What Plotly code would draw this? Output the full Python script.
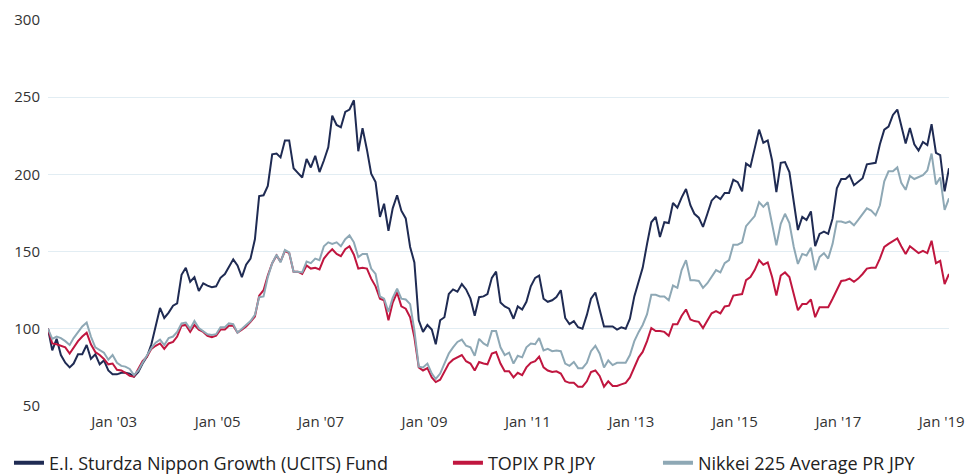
import pandas as pd
import plotly.graph_objects as go

# Monthly month-end observations, Aug 2001 .. Jan 2019 (rebased to 100)
dates = pd.date_range("2001-08-31", periods=210, freq="ME")

fund = [
    100, 86, 93.5, 83, 78, 75, 77.5, 83.5, 83.5, 89.5,
    80.5, 83.5, 77, 79.5, 73, 70.5, 70.5, 71.5, 71.5, 71,
    69, 72, 77.5, 82, 90, 101, 113.5, 107, 110.5, 115,
    116.5, 135, 139.5, 130.5, 133.5, 124.5, 129.5, 128, 127, 127.5,
    133, 135.5, 140, 145, 141, 133.5, 141.5, 145.5, 158, 186,
    186.5, 192.5, 213, 213.5, 211, 222, 222, 204, 201, 198,
    210, 204.5, 212, 201.5, 209, 217.5, 238, 232, 230.5, 240.5,
    242, 248, 215, 230, 216, 200.5, 195, 172.5, 181, 163.5,
    178, 186.5, 176.5, 171.5, 153, 143, 105.5, 98, 102.5, 99.5,
    90, 105.5, 107.5, 122.5, 125.5, 124, 129, 125.5, 119.5, 108.5,
    120.5, 121, 122.5, 133, 137, 117, 114.5, 113, 106.5, 114.5,
    112.5, 117.5, 127.5, 133, 134.5, 119.5, 117.5, 118.5, 120.5, 125,
    107, 103, 105, 101, 100, 109, 119.5, 123.5, 112.5, 101.5,
    101.5, 101.5, 99.5, 101, 100, 106.5, 121, 130.5, 139.5, 155,
    169, 172.5, 159.5, 169, 168.5, 181.5, 178.5, 185, 190.5, 180,
    174.5, 172, 166, 174.5, 183, 186, 184, 188, 188, 196.5,
    195, 189, 207, 205, 217.5, 229, 220.5, 222, 209, 188.5,
    207.5, 208, 201.5, 181, 164, 172.5, 170.5, 176, 153.5, 161.5,
    163, 161.5, 171.5, 191, 197, 197, 199.5, 193, 195.5, 197.5,
    206.5, 207, 207.5, 219.5, 229, 231, 238.5, 242, 231, 220,
    230, 219.5, 215.5, 221, 219, 232.5, 214, 212.5, 189, 204,
]

topix = [
    100, 90.5, 90, 89, 88, 84, 88, 92, 95, 97.5,
    90, 85, 83, 80.5, 77, 77.5, 73.5, 73, 71.5, 69.5,
    69, 74, 79, 82, 87, 89, 90.5, 87, 90.5, 91.5,
    95, 102, 102.5, 98, 102.5, 99.5, 98, 95.5, 94.5, 95.5,
    99.5, 99.5, 102, 102, 97.5, 99.5, 101.5, 104.5, 108, 121.5,
    125, 134.5, 142.5, 147.5, 143.5, 150.5, 149, 137, 137, 135.5,
    141, 139, 139.5, 138.5, 145.5, 149, 151.5, 148.5, 147, 151.5,
    153.5, 148, 139, 139.5, 139, 132.5, 127.5, 119.5, 118.5, 105.5,
    117, 123.5, 114.5, 113, 107.5, 94.5, 75, 73, 74.5, 68.5,
    65.5, 67, 72, 77.5, 80, 81.5, 83, 79, 77.5, 73,
    78.5, 77.5, 77, 84, 85, 77.5, 72.5, 72.5, 68.5, 71.5,
    70, 75, 78, 79, 82, 75, 73, 72, 72.5, 71,
    66, 65, 65, 62.5, 62.5, 66, 72, 73, 69.5, 62.5,
    66, 63, 63, 64, 65, 68.5, 75, 81.5, 85, 92,
    100.5, 98.5, 98.5, 98, 95.5, 103, 103, 108.5, 112.5, 106,
    105, 104.5, 100.5, 105.5, 110, 111.5, 110, 114.5, 115, 121.5,
    122, 122.5, 131.5, 133.5, 138, 144.5, 141.5, 143, 133.5, 121.5,
    134.5, 136.5, 133.5, 122.5, 112, 116, 116, 119, 107.5, 114,
    114, 114, 119.5, 125.5, 131, 131.5, 132.5, 130.5, 132.5, 135.5,
    139, 139.5, 139.5, 145.5, 153, 155, 157, 158.5, 153.5, 148.5,
    153.5, 151, 149, 150.5, 149, 157, 142.5, 144, 129, 135.5,
]

nikkei = [
    100, 93.5, 95, 94, 92, 89.5, 94, 98, 101.5, 104,
    95, 88, 86, 84.5, 80, 83, 78, 76, 75.5, 74,
    70, 73, 78, 83, 87.5, 91, 93, 89.5, 94, 95,
    98, 103.5, 104, 100, 105, 100.5, 98.5, 96.5, 96, 96.5,
    101, 101, 103.5, 103, 97.5, 100, 102, 105, 109, 120.5,
    121, 133.5, 142.5, 148, 143, 151, 149.5, 137, 137, 136.5,
    143.5, 142.5, 145.5, 144.5, 153.5, 156, 155, 156, 153.5, 158,
    160.5, 156, 146.5, 148.5, 148.5, 139, 135.5, 121, 119.5, 111,
    120, 126, 119.5, 119, 116, 99, 75.5, 75, 77.5, 71,
    67.5, 71, 77.5, 84, 88, 91.5, 93, 89, 88, 82.5,
    93.5, 90.5, 89, 98.5, 98.5, 88, 83, 84.5, 77.5, 82.5,
    81.5, 88, 90.5, 90, 94, 86, 87, 85.5, 86, 85.5,
    77.5, 76, 78.5, 74.5, 74.5, 78, 85.5, 89, 84, 75,
    79.5, 76.5, 78, 78, 78, 83, 92, 98, 102.5, 109.5,
    122, 122, 121, 121, 118.5, 128, 126.5, 138, 144.5, 131.5,
    131.5, 131, 126.5, 129.5, 133.5, 138, 136.5, 142.5, 144.5, 154.5,
    154.5, 156, 166.5, 170, 173, 182, 179, 182, 168, 154,
    168, 174.5, 168.5, 153, 142, 148.5, 147.5, 152.5, 138, 146.5,
    149, 145.5, 155, 169.5, 169.5, 168.5, 169.5, 167, 170.5, 174.5,
    178, 176.5, 173.5, 180, 195.5, 202, 202, 204.5, 194.5, 190,
    199, 197, 198, 199.5, 202.5, 213.5, 193.5, 198, 177, 184.5,
]

names = [
    "E.I. Sturdza Nippon Growth (UCITS) Fund",
    "TOPIX PR JPY",
    "Nikkei 225 Average PR JPY",
]
series = [fund, topix, nikkei]
colors = ["#1f2b53", "#c0163f", "#8ea8b5"]
legends = ["legend", "legend2", "legend3"]

y_ticks = [50, 100, 150, 200, 250, 300]

FONT = "Open Sans"

fig = go.Figure()
for name, vals, col in zip(names, series, colors):
    fig.add_trace(go.Scatter(
        x=dates, y=vals, mode="lines", name=name,
        line=dict(color=col, width=2), showlegend=False,
        hoverinfo="x+y",
    ))
# legend entries (thicker key lines, as in the original)
for name, col, lg in zip(names, colors, legends):
    fig.add_trace(go.Scatter(
        x=[None], y=[None], mode="lines", name=name,
        line=dict(color=col, width=4), showlegend=True, legend=lg,
    ))

leg_common = dict(orientation="h", yanchor="middle", y=-0.148, xanchor="left",
                  font=dict(family=FONT, size=18, color="#222222"),
                  bgcolor="rgba(0,0,0,0)", borderwidth=0)

fig.update_layout(
    width=967, height=476,
    margin=dict(l=48, r=18, t=20, b=70, autoexpand=False),
    paper_bgcolor="white", plot_bgcolor="white",
    font=dict(family=FONT, size=15, color="#333333"),
    xaxis=dict(
        type="date",
        range=[dates[0], dates[-1]],
        tick0="2003-01-01", dtick="M24", tickformat="%b '%y",
        showgrid=False, zeroline=False, showline=False,
        ticks="outside", ticklen=2, tickcolor="rgba(0,0,0,0)",
        ticklabelshift=-3, ticklabeloverflow="allow", automargin=False,
        tickfont=dict(family=FONT, size=15, color="#333333"),
    ),
    yaxis=dict(
        range=[50, 300], tickvals=y_ticks,
        showgrid=True, gridcolor="#e2edf3", gridwidth=1,
        zeroline=False, showline=False, automargin=False,
        ticks="outside", ticklen=4, tickcolor="rgba(0,0,0,0)",
        tickfont=dict(family=FONT, size=15, color="#333333"),
    ),
    legend=dict(leg_common, x=-0.0433),
    legend2=dict(leg_common, x=0.4439),
    legend3=dict(leg_common, x=0.677),
)

fig.write_html("out.html", config={"displayModeBar": False},
               post_script="document.body.style.margin='0';")
